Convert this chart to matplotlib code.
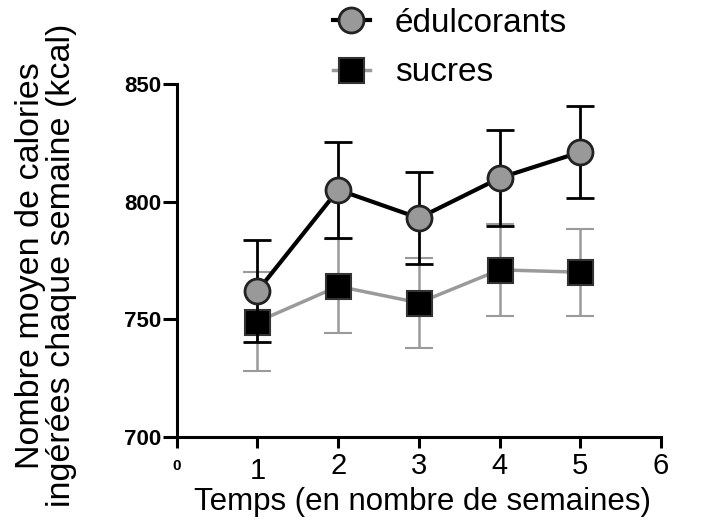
import matplotlib.pyplot as plt
from matplotlib.lines import Line2D

plt.rcParams['font.family'] = ['Liberation Sans', 'DejaVu Sans']

weeks = [1, 2, 3, 4, 5]
edulcorants = [762, 805, 793, 810, 821]
edulcorants_err = [21.5, 20.5, 19.5, 20.5, 19.5]
sucres = [749, 764, 757, 771, 770]
sucres_err = [21, 20, 19, 19.5, 18.5]

fig = plt.figure(figsize=(7.1, 5.24), dpi=100)
ax = fig.add_axes([0.249, 0.166, 0.682, 0.674])

# sucres drawn first so the circles sit on top
ax.errorbar(weeks, sucres, yerr=sucres_err, color='#9a9a9a', lw=2.5,
            elinewidth=1.8, capsize=10, capthick=1.8,
            marker='s', ms=18, mfc='black', mec='#333333', mew=1.5, zorder=2)
ax.errorbar(weeks, edulcorants, yerr=edulcorants_err, color='black', lw=3,
            elinewidth=2, capsize=10, capthick=2,
            marker='o', ms=18, mfc='#999999', mec='#222222', mew=2, zorder=3)

ax.set_xlim(0, 6)
ax.set_ylim(700, 850)
ax.set_xticks(range(0, 7))
ax.set_yticks([700, 750, 800, 850])
ax.set_xticklabels(['0', '1', '2', '3', '4', '5', '6'], fontsize=21)
ax.set_yticklabels(['700', '750', '800', '850'], fontsize=16, fontweight='bold')
xl = ax.get_xticklabels()
xl[0].set_fontsize(11)
xl[0].set_fontweight('bold')

for s in ['top', 'right']:
    ax.spines[s].set_visible(False)
for s in ['left', 'bottom']:
    ax.spines[s].set_linewidth(2.2)
ax.tick_params(axis='x', direction='out', length=8, width=2.2, pad=3)
ax.tick_params(axis='y', direction='out', length=10, width=2.2, pad=1)
# "0" and "1" sit a little lower in the original
xticks = ax.xaxis.get_major_ticks()
xticks[0].set_pad(8)
xticks[1].set_pad(6.5)

fig.text(423 / 710, 1 - 502 / 524, 'Temps (en nombre de semaines)',
         fontsize=22.5, ha='center', va='center')
fig.text(46 / 710, 0.494, 'Nombre moyen de calories\ningérées chaque semaine (kcal)',
         fontsize=24.5, rotation=90, ha='center', va='center', linespacing=1.0)

handles = [
    Line2D([], [], color='black', lw=3, marker='o', ms=18, mfc='#999999', mec='#222222', mew=2),
    Line2D([], [], color='#9a9a9a', lw=2.5, marker='s', ms=18, mfc='black', mec='#333333', mew=1.5),
]
fig.legend(handles, ['édulcorants', 'sucres'], loc='upper left',
           bbox_to_anchor=(333 / 710, 1 - 8 / 524), frameon=False, fontsize=24,
           borderpad=0, borderaxespad=0,
           handlelength=1.1, handletextpad=0.75, labelspacing=0.55)

fig.savefig('out.png', dpi=100)
